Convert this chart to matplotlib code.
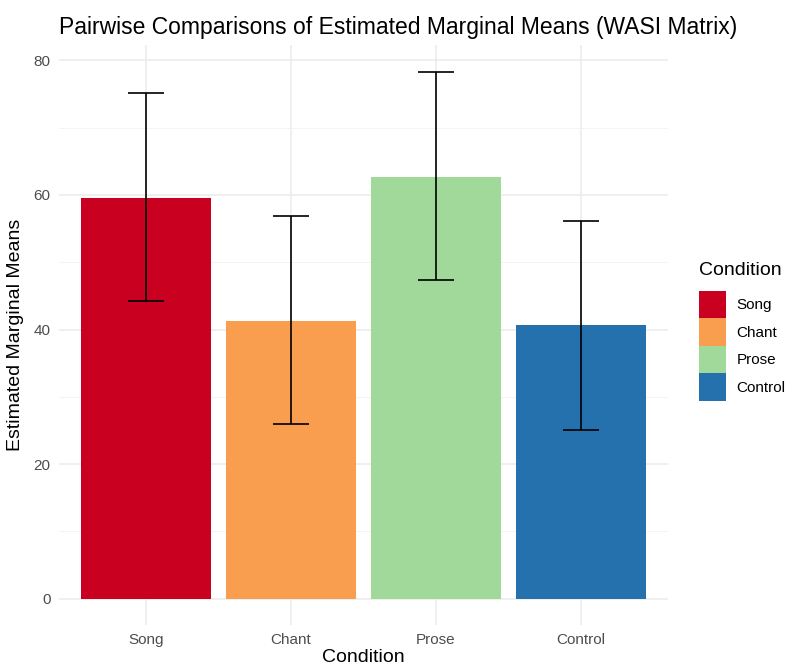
import matplotlib
matplotlib.use("Agg")
import matplotlib.pyplot as plt
from matplotlib.patches import Patch
import numpy as np

conditions = ["Song", "Chant", "Prose", "Control"]
emmeans = [59.5, 41.2, 62.7, 40.6]
lower_ci = [44.2, 25.9, 47.3, 25.1]
upper_ci = [75.1, 56.9, 78.3, 56.1]
colors = ["#CA0020", "#F99D4E", "#A1D99B", "#2471AE"]
y_ticks = [0, 20, 40, 60, 80]
y_minor = [10, 30, 50, 70]

plt.rcParams['font.family'] = ['Liberation Sans', 'DejaVu Sans']

fig = plt.figure(figsize=(7.85, 6.66), dpi=100)
ax = fig.add_axes([0.0752, 0.0616, 0.851 - 0.0752, 0.9317 - 0.0616])

x = np.arange(1, len(conditions) + 1)
ax.bar(x, emmeans, width=0.9, color=colors, zorder=2)
means = np.array(emmeans)
yerr = [means - np.array(lower_ci), np.array(upper_ci) - means]
ax.errorbar(x, means, yerr=yerr, fmt='none', ecolor='black', elinewidth=1.2,
            capsize=13, capthick=1.2, zorder=3)

ymax = max(upper_ci)
ax.set_ylim(-0.05 * ymax, ymax * 1.05)
ax.set_xlim(0.4, len(conditions) + 0.6)
ax.set_xticks(x)
ax.set_xticklabels(conditions)
ax.set_yticks(y_ticks)
ax.set_yticks(y_minor, minor=True)

ax.grid(True, which='major', color='#EBEBEB', linewidth=1.1, zorder=0)
ax.grid(True, which='minor', axis='y', color='#F2F2F2', linewidth=0.6, zorder=0)
ax.set_axisbelow(True)
for s in ax.spines.values():
    s.set_visible(False)
ax.tick_params(axis='both', which='both', length=0, colors='#4D4D4D', labelsize=11)
ax.tick_params(axis='x', pad=6)
ax.tick_params(axis='y', pad=6)

ax.set_xlabel("Condition", fontsize=14, color='black', labelpad=1)
ax.set_ylabel("Estimated Marginal Means", fontsize=14, color='black', labelpad=7)
ax.set_title("Pairwise Comparisons of Estimated Marginal Means (WASI Matrix)",
             fontsize=16.5, loc='left', x=0.0, pad=8)

handles = [Patch(facecolor=c, edgecolor='none') for c in colors]
leg = fig.legend(handles, conditions, title="Condition", loc='center left',
                 bbox_to_anchor=(0.883, 0.502), frameon=False, fontsize=11,
                 title_fontsize=14, handlelength=1.75, handleheight=2.4,
                 labelspacing=0.0, handletextpad=0.7, borderaxespad=0)
leg._legend_box.align = "left"
leg._legend_box.sep = 8

fig.savefig("out.png", dpi=100)
